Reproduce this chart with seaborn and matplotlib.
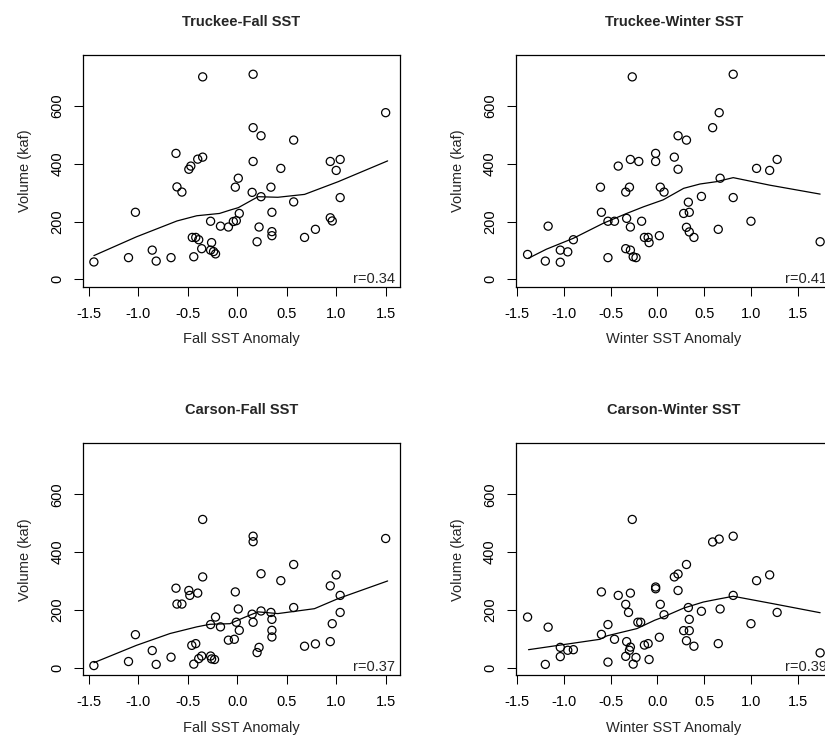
import matplotlib
matplotlib.use('Agg')
import matplotlib.pyplot as plt
import seaborn as sns

# axis ticks shared by all four panels
x_ticks = [-1.5, -1.0, -0.5, 0.0, 0.5, 1.0, 1.5]
x_tick_labels = ['-1.5', '-1.0', '-0.5', '0.0', '0.5', '1.0', '1.5']
y_ticks = [0, 200, 400, 600]

# Truckee volume vs fall SST anomaly
tf_x = [-0.35, -0.62, -0.40, -0.35, -0.47, -0.49, -0.61, -0.56, -1.03, -0.27, -0.17, -0.09, -0.455,
        -0.42, -0.39, -0.26, -0.36, -0.27, -0.24, -0.22, -0.86, -0.44, -1.10, -0.82, -0.67, -1.45,
        0.16, 0.16, 0.24, 0.57, 1.50, 0.16, 0.44, 0.94, 1.04, 1.00, 0.01, -0.02, 0.34, 0.15, 0.24,
        0.57, 1.04, 0.02, 0.35, -0.01, -0.04, 0.22, 0.94, 0.96, 0.79, 0.68, 0.35, 0.35, 0.20]
tf_y = [701, 436, 416, 423, 392, 381, 320, 302, 232, 201, 184, 181, 145,
        145, 137, 127, 106, 101, 96, 88, 101, 78, 75, 63, 75, 60,
        710, 525, 497, 482, 577, 408, 384, 408, 415, 377, 350, 319, 319, 301, 286,
        268, 283, 228, 232, 203, 200, 181, 213, 202, 173, 145, 165, 151, 130]
tf_lx = [-1.45, -1.02, -0.61, -0.41, -0.18, -0.07, 0.01, 0.21, 0.41, 0.68, 1.02, 1.52]
tf_ly = [82, 147, 202, 220, 228, 240, 248, 286, 284, 294, 338, 410]

# Truckee volume vs winter SST anomaly
tw_x = [-0.27, -0.29, -0.20, -0.42, -0.61, -0.30, -0.34, -0.60, -0.53, -0.46, -0.33, -0.29, -0.17,
        -1.17, -0.90, -1.39, -1.20, -1.04, -0.96, -1.04, -0.53, -0.34, -0.29, -0.26, -0.23, -0.14,
        -0.10, -0.09,
        0.81, 0.66, 0.59, 0.22, 0.31, -0.02, -0.02, 0.18, 0.22, 1.06, 1.20, 1.28, 0.67, 0.03, 0.07,
        0.47, 0.81, 0.33, 0.28, 0.34, 1.00, 0.02, 0.31, 0.34, 0.39, 0.65, 1.74]
tw_y = [701, 415, 408, 392, 319, 319, 302, 232, 201, 201, 211, 181, 201,
        184, 137, 86, 63, 101, 95, 59, 75, 106, 101, 78, 75, 145,
        145, 127,
        710, 577, 525, 497, 482, 436, 408, 423, 381, 384, 377, 415, 350, 319, 302,
        287, 283, 267, 228, 232, 201, 151, 180, 164, 145, 173, 130]
tw_lx = [-1.38, -1.19, -0.90, -0.58, -0.33, -0.15, 0.06, 0.28, 0.455, 0.63, 0.81, 1.20, 1.74]
tw_ly = [73, 104, 142, 194, 228, 251, 275, 315, 330, 338, 352, 326, 295]

# Carson volume vs fall SST anomaly
cf_x = [-0.35, -0.35, -0.62, -0.49, -0.48, -0.40, -0.61, -0.56, -1.03, -0.22, -0.27, -0.17, -0.09,
        -0.46, -0.42, -0.86, -1.10, -0.82, -0.67, -1.45, -0.44, -0.39, -0.36, -0.27, -0.26, -0.23,
        0.16, 0.16, 1.50, 0.57, 0.24, 0.44, 1.00, 0.94, 1.04, -0.02, 0.01, 0.15, 0.24, 0.34, 0.57,
        -0.01, 0.16, 0.35, 1.04, 0.96, 0.02, 0.35, 0.35, -0.03, 0.22, 0.20, 0.68, 0.79, 0.94]
cf_y = [513, 314, 275, 267, 250, 258, 220, 220, 114, 175, 149, 141, 95,
        77, 83, 59, 21, 11, 36, 7, 12, 31, 40, 40, 30, 28,
        455, 436, 447, 357, 325, 301, 321, 283, 250, 262, 203, 185, 196, 191, 208,
        157, 157, 167, 191, 152, 129, 129, 106, 98, 70, 52, 74, 82, 90]
cf_lx = [-1.45, -1.02, -0.68, -0.41, -0.276, -0.075, 0.08, 0.21, 0.41, 0.78, 1.02, 1.52]
cf_ly = [17, 77, 118, 141, 150, 152, 175, 193, 187, 204, 239, 300]

# Carson volume vs winter SST anomaly
cw_x = [-0.27, -0.60, -0.29, -0.42, -0.34, -0.31, -0.21, -0.18, -0.53, -0.60, -0.46, -0.33, -0.29,
        -0.30, -0.34, -0.23, -0.14, -0.10, -0.09, -0.26, -0.53, -1.39, -1.17, -1.20, -1.04, -1.04,
        -0.96, -0.90,
        0.81, 0.59, 0.66, 0.31, 0.22, 0.18, -0.02, -0.02, 0.22, 1.06, 1.20, 1.28, 0.03, 0.07, 0.33,
        0.47, 0.67, 0.81, 0.34, 0.28, 0.34, 1.00, 0.02, 0.31, 0.39, 0.65, 1.74]
cw_y = [513, 262, 258, 250, 219, 191, 157, 157, 149, 115, 98, 90, 71,
        60, 39, 35, 78, 83, 28, 12, 19, 175, 140, 11, 38, 70,
        60, 62,
        455, 435, 445, 357, 324, 314, 279, 273, 267, 301, 321, 191, 219, 183, 208,
        195, 203, 250, 167, 128, 128, 152, 105, 93, 74, 83, 51]
cw_lx = [-1.38, -0.615, -0.54, -0.22, -0.03, 0.06, 0.28, 0.49, 0.63, 0.81, 1.24, 1.74]
cw_ly = [62, 98, 110, 135, 164, 175, 206, 227, 236, 247, 221, 190]

titles = ['Truckee-Fall SST', 'Truckee-Winter SST', 'Carson-Fall SST', 'Carson-Winter SST']
x_labels = ['Fall SST Anomaly', 'Winter SST Anomaly', 'Fall SST Anomaly', 'Winter SST Anomaly']
r_labels = ['r=0.34', 'r=0.41', 'r=0.37', 'r=0.39']

sns.set_style('white')
plt.rcParams['font.family'] = ['Liberation Sans', 'DejaVu Sans']

W, H = 825, 749
fig = plt.figure(figsize=(W / 100, H / 100), dpi=100)

# panel boxes in pixels: left, top (the right column runs past the image edge)
boxes = [(83.3, 55), (515.7, 55), (83.3, 443.3), (515.7, 443.3)]
box_w, box_h = 316.4, 232
xlims = [(-1.557, 1.642), (-1.517, 1.868), (-1.557, 1.642), (-1.517, 1.868)]
ylim = (-26.7, 776.7)

panels = [(tf_x, tf_y, tf_lx, tf_ly), (tw_x, tw_y, tw_lx, tw_ly),
          (cf_x, cf_y, cf_lx, cf_ly), (cw_x, cw_y, cw_lx, cw_ly)]

for i, (px, py, lx, ly) in enumerate(panels):
    left, top = boxes[i]
    ax = fig.add_axes([left / W, 1 - (top + box_h) / H, box_w / W, box_h / H])
    sns.scatterplot(x=px, y=py, ax=ax, marker='o', s=34, facecolor='none',
                    edgecolor='black', linewidth=0.9)
    sns.lineplot(x=lx, y=ly, ax=ax, color='black', linewidth=0.9, sort=False, estimator=None)
    ax.set_xlim(*xlims[i])
    ax.set_ylim(*ylim)
    ax.set_xticks(x_ticks)
    ax.set_xticklabels(x_tick_labels)
    ax.set_yticks(y_ticks)
    ax.set_yticklabels([str(v) for v in y_ticks], rotation=90, va='center')
    ax.tick_params(direction='out', length=6.5, width=0.75, colors='black',
                   labelsize=10.5, bottom=True, left=True)
    ax.tick_params(axis='x', pad=8)
    ax.tick_params(axis='y', pad=7)
    for sp in ax.spines.values():
        sp.set_color('black')
        sp.set_linewidth(0.9)
    ax.set_title(titles[i], fontsize=10.5, fontweight='bold', pad=21)
    ax.set_xlabel(x_labels[i], fontsize=10.5, labelpad=8)
    ax.set_ylabel('Volume (kaf)', fontsize=10.5, labelpad=13)
    ax.text(1 - 5 / box_w, 1 / box_h, r_labels[i], transform=ax.transAxes,
            ha='right', va='bottom', fontsize=10.5)

fig.savefig('out.png', dpi=100)
